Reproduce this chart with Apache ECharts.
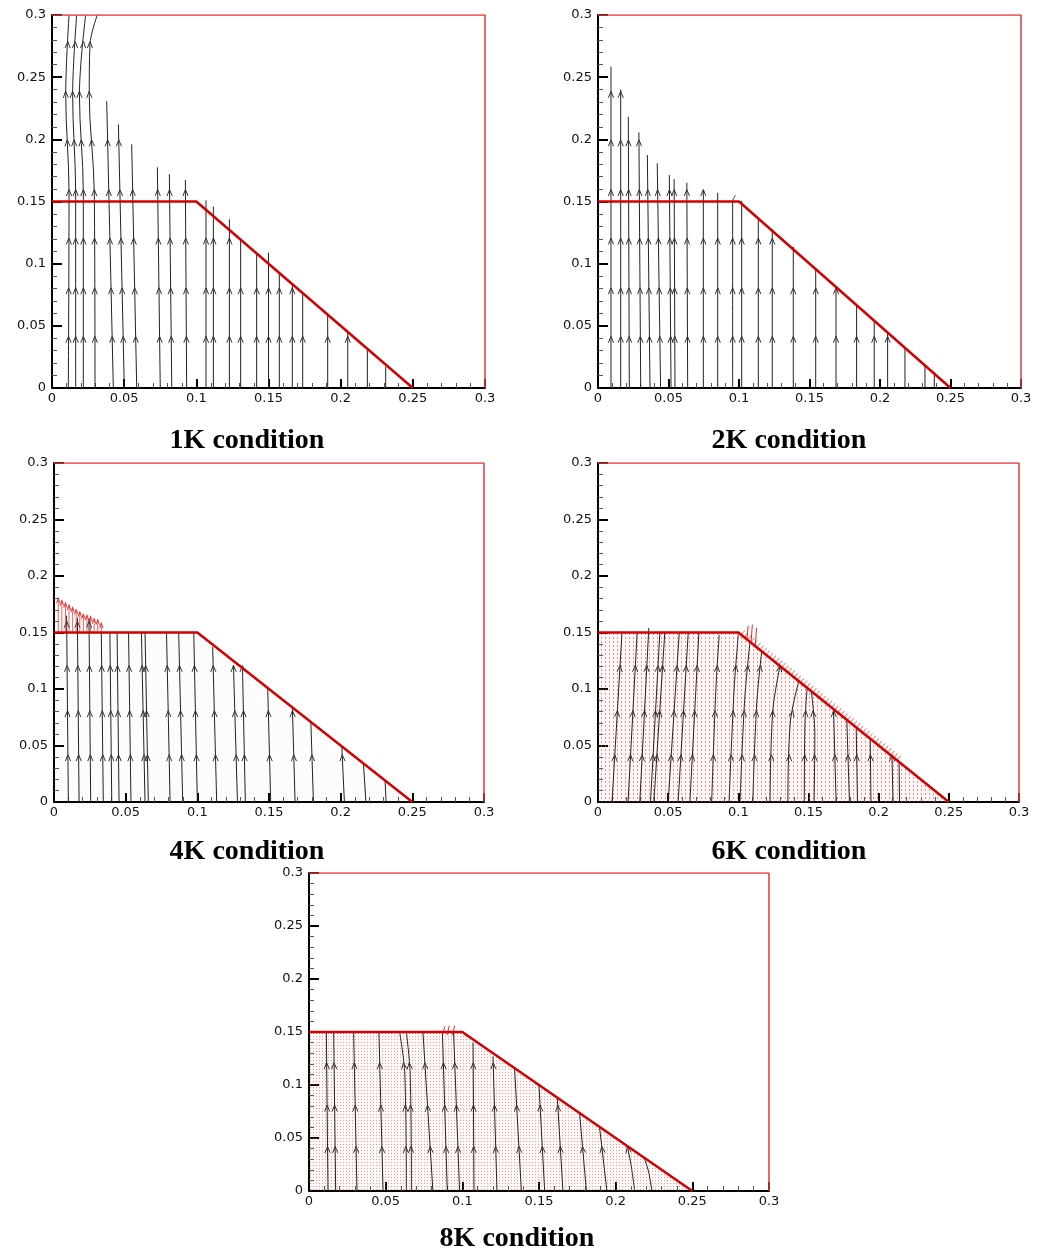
<!DOCTYPE html>
<html><head><meta charset="utf-8">
<script src="https://cdn.jsdelivr.net/npm/echarts@6/dist/echarts.min.js"></script>
<style>html,body{margin:0;padding:0;background:#fff}#c{width:1038px;height:1250px}</style>
</head><body><div id="c"></div>
<script>
// ---------- data ----------
const panelTitles = ['1K condition', '2K condition', '4K condition', '6K condition', '8K condition'];
const axisTickValues = [0, 0.05, 0.1, 0.15, 0.2, 0.25, 0.3];
const boundary = [[0, 0.15], [0.1, 0.15], [0.25, 0]];
const domainFrame = [[0, 0.3], [0.3, 0.3], [0.3, 0]];
const arrowLevels = [0.039, 0.078, 0.118, 0.157, 0.197, 0.236, 0.276];

// streamlines: each is a list of [x, y] points from bottom to top
const lines1K = [
  [[0.0113, 0], [0.0118, 0.157], [0.0095, 0.236], [0.0118, 0.3]],
  [[0.0164, 0], [0.0164, 0.157], [0.0143, 0.236], [0.0171, 0.3]],
  [[0.0217, 0], [0.0217, 0.157], [0.0190, 0.236], [0.0233, 0.3]],
  [[0.0298, 0], [0.0293, 0.157], [0.0258, 0.236], [0.0263, 0.276], [0.0314, 0.3]],
  [[0.0425, 0], [0.0379, 0.2308]],
  [[0.0501, 0], [0.0460, 0.212]],
  [[0.0587, 0], [0.0552, 0.196]],
  [[0.0750, 0], [0.0730, 0.1775]],
  [[0.0830, 0], [0.0813, 0.172]],
  [[0.0933, 0], [0.0924, 0.1673]],
  [[0.1067, 0], [0.1067, 0.151]],
  [[0.1118, 0], [0.1118, 0.146]],
  [[0.1229, 0], [0.1229, 0.1357]],
  [[0.1307, 0], [0.1307, 0.119]],
  [[0.1418, 0], [0.1418, 0.1083]],
  [[0.1500, 0], [0.1500, 0.1088]],
  [[0.1575, 0], [0.1575, 0.0922]],
  [[0.1665, 0], [0.1665, 0.0828]],
  [[0.1737, 0], [0.1737, 0.0761]],
  [[0.1910, 0], [0.1910, 0.0587]],
  [[0.2049, 0], [0.2049, 0.0453]],
  [[0.2185, 0], [0.2185, 0.0306]],
  [[0.2312, 0], [0.2312, 0.0171]]
];
const lines2K = [
  [[0.0092, 0], [0.0092, 0.2584]],
  [[0.0161, 0], [0.0161, 0.2402]],
  [[0.0222, 0], [0.0215, 0.2182]],
  [[0.0303, 0], [0.0290, 0.2056]],
  [[0.0369, 0], [0.0350, 0.1874]],
  [[0.0444, 0], [0.0420, 0.1807]],
  [[0.0518, 0], [0.0506, 0.1713]],
  [[0.0546, 0], [0.0540, 0.168]],
  [[0.0636, 0], [0.0630, 0.1651]],
  [[0.0747, 0], [0.0747, 0.1592]],
  [[0.0849, 0], [0.0849, 0.157]],
  [[0.0955, 0], [0.0955, 0.150], [0.0975, 0.155]],
  [[0.1019, 0], [0.1019, 0.1504]],
  [[0.1137, 0], [0.1137, 0.1365]],
  [[0.1236, 0], [0.1236, 0.1276]],
  [[0.1385, 0], [0.1385, 0.1137]],
  [[0.1544, 0], [0.1544, 0.0949]],
  [[0.1688, 0], [0.1688, 0.0815]],
  [[0.1834, 0], [0.1834, 0.0668]],
  [[0.1959, 0], [0.1959, 0.0547]],
  [[0.2054, 0], [0.2054, 0.0453]],
  [[0.2177, 0], [0.2177, 0.0319]],
  [[0.2319, 0], [0.2319, 0.0185]],
  [[0.2385, 0], [0.2385, 0.0123]]
];
const lines4K = [
  [[0.0100, 0], [0.0088, 0.165]],
  [[0.0175, 0], [0.0163, 0.163]],
  [[0.0256, 0], [0.0244, 0.162]],
  [[0.0344, 0], [0.0330, 0.150]],
  [[0.0403, 0], [0.0390, 0.150]],
  [[0.0454, 0], [0.0440, 0.150]],
  [[0.0537, 0], [0.0520, 0.150]],
  [[0.0635, 0], [0.0610, 0.150]],
  [[0.0658, 0], [0.0635, 0.150]],
  [[0.0810, 0], [0.0785, 0.150]],
  [[0.0898, 0], [0.0870, 0.150]],
  [[0.1000, 0], [0.0975, 0.150]],
  [[0.1135, 0], [0.1107, 0.1374]],
  [[0.1280, 0], [0.1252, 0.1212]],
  [[0.1335, 0], [0.1315, 0.1195]],
  [[0.1512, 0], [0.1491, 0.1006]],
  [[0.1682, 0], [0.1663, 0.0838]],
  [[0.1810, 0], [0.1792, 0.0711]],
  [[0.2026, 0], [0.2008, 0.0489]],
  [[0.2176, 0], [0.2159, 0.0336]],
  [[0.2317, 0], [0.2310, 0.0180]]
];
const lines6K = [
  [[0.0100, 0], [0.0171, 0.150]],
  [[0.0214, 0], [0.0279, 0.150]],
  [[0.0298, 0], [0.0362, 0.154]],
  [[0.0374, 0], [0.0441, 0.150]],
  [[0.0398, 0], [0.0476, 0.150]],
  [[0.0500, 0], [0.0579, 0.150]],
  [[0.0571, 0], [0.0643, 0.150]],
  [[0.0655, 0], [0.0719, 0.150]],
  [[0.0810, 0], [0.0840, 0.100], [0.0864, 0.148]],
  [[0.0934, 0], [0.0970, 0.100], [0.1000, 0.148]],
  [[0.1012, 0], [0.1045, 0.090], [0.1083, 0.1417]],
  [[0.1103, 0], [0.1130, 0.085], [0.1167, 0.134]],
  [[0.1226, 0], [0.1245, 0.080], [0.1298, 0.121]],
  [[0.1353, 0], [0.1370, 0.070], [0.1429, 0.106]],
  [[0.1470, 0], [0.1475, 0.070], [0.1490, 0.100]],
  [[0.1540, 0], [0.1545, 0.060], [0.1520, 0.098]],
  [[0.1697, 0], [0.1678, 0.083]],
  [[0.1792, 0], [0.1773, 0.072]],
  [[0.1849, 0], [0.1840, 0.065]],
  [[0.1945, 0], [0.1940, 0.0555]],
  [[0.2102, 0], [0.2095, 0.041]],
  [[0.2149, 0], [0.2145, 0.036]]
];
const lines8K = [
  [[0.0124, 0], [0.0113, 0.150]],
  [[0.0174, 0], [0.0161, 0.150]],
  [[0.0313, 0], [0.0291, 0.150]],
  [[0.0483, 0], [0.0456, 0.150]],
  [[0.0635, 0], [0.0625, 0.110], [0.0591, 0.150]],
  [[0.0668, 0], [0.0660, 0.110], [0.0635, 0.150]],
  [[0.0808, 0], [0.0743, 0.150]],
  [[0.0902, 0], [0.0870, 0.150]],
  [[0.0982, 0], [0.0943, 0.150]],
  [[0.1076, 0], [0.1070, 0.140]],
  [[0.1226, 0], [0.1200, 0.127]],
  [[0.1385, 0], [0.1341, 0.115]],
  [[0.1537, 0], [0.1500, 0.099]],
  [[0.1656, 0], [0.1620, 0.087]],
  [[0.1809, 0], [0.1765, 0.073]],
  [[0.1943, 0], [0.1895, 0.060]],
  [[0.2124, 0], [0.2100, 0.025], [0.2076, 0.042]],
  [[0.2236, 0], [0.2215, 0.018], [0.2189, 0.030]]
];
// red velocity vectors
const redVec4K = [[0.003, 0.181], [0.0055, 0.179], [0.008, 0.177], [0.0105, 0.175], [0.013, 0.173],
  [0.0155, 0.171], [0.018, 0.169], [0.0205, 0.167], [0.023, 0.166], [0.0255, 0.165],
  [0.028, 0.163], [0.0305, 0.162], [0.033, 0.159]];
const redTicks6K = [
  [[0.106, 0.143], [0.107, 0.156]], [[0.109, 0.140], [0.110, 0.157]], [[0.112, 0.137], [0.113, 0.154]]
];
const redFringe6K = [[0.103, 0.150], [0.215, 0.038]];
const redTicks8K = [
  [[0.0870, 0.147], [0.0885, 0.155]], [[0.0900, 0.147], [0.0915, 0.156]], [[0.0935, 0.147], [0.0950, 0.156]]
];

// ---------- layout ----------
const gridBoxes = [
  {left: 52, top: 15, width: 433, height: 373},
  {left: 598, top: 15, width: 423, height: 373},
  {left: 54, top: 463, width: 430, height: 339},
  {left: 598, top: 463, width: 421, height: 339},
  {left: 309, top: 873, width: 460, height: 318}
];
const titlePos = [[247, 441], [789, 441], [247, 852], [789, 852], [517, 1239]];

function dotPattern(w, h, dw, dh, r, g, b, a) {
  const c = document.createElement('canvas');
  c.width = w; c.height = h;
  const ctx = c.getContext('2d');
  const img = ctx.createImageData(w, h);
  for (let yy = 1; yy < 1 + dh; yy++) {
    for (let xx = 1; xx < 1 + dw; xx++) {
      const k = (yy * w + xx) * 4;
      img.data[k] = r; img.data[k + 1] = g; img.data[k + 2] = b; img.data[k + 3] = a;
    }
  }
  ctx.putImageData(img, 0, 0);
  return {image: c.toDataURL('image/png'), repeat: 'repeat'};
}
const panelFill = [
  null,
  null,
  dotPattern(4, 4, 1, 1, 120, 120, 120, 40),
  dotPattern(4, 4, 1, 2, 236, 70, 70, 150),
  dotPattern(3, 3, 1, 1, 236, 70, 70, 140)
];
const panelTint = [null, null, null, 'rgba(240,90,90,0.05)', 'rgba(240,90,90,0.04)'];
const panelLines = [lines1K, lines2K, lines4K, lines6K, lines8K];

function fmt(v) { return String(+v.toFixed(2)); }

function arrowsFor(lines) {
  const out = [];
  lines.forEach(pts => {
    const top = pts[pts.length - 1][1];
    arrowLevels.forEach(L => {
      if (L >= top - 0.001) return;
      for (let k = 0; k < pts.length - 1; k++) {
        const a = pts[k], b = pts[k + 1];
        if ((L - a[1]) * (L - b[1]) <= 0 && a[1] !== b[1]) {
          const t = (L - a[1]) / (b[1] - a[1]);
          out.push([a[0] + t * (b[0] - a[0]), L, b[0] - a[0], b[1] - a[1]]);
          break;
        }
      }
    });
  });
  return out;
}

function arrowRenderer(color, h, w) {
  return function (params, api) {
    const x = api.value(0), y = api.value(1);
    const p = api.coord([x, y]);
    const q = api.coord([x + api.value(2) * 0.1, y + api.value(3) * 0.1]);
    let dx = q[0] - p[0], dy = q[1] - p[1];
    const len = Math.hypot(dx, dy) || 1;
    dx /= len; dy /= len;
    const nx = -dy, ny = dx;
    return {
      type: 'polyline',
      shape: {points: [
        [p[0] - dx * h + nx * w, p[1] - dy * h + ny * w],
        [p[0] + dx * h, p[1] + dy * h],
        [p[0] - dx * h - nx * w, p[1] - dy * h - ny * w]
      ]},
      style: {stroke: color, lineWidth: 1, fill: null}
    };
  };
}

const grids = [], xAxes = [], yAxes = [], series = [], graphics = [];
gridBoxes.forEach((b, i) => {
  grids.push(Object.assign({containLabel: false, outerBoundsMode: 'none'}, b));
  const common = {
    gridIndex: i, type: 'value', min: axisTickValues[0], max: axisTickValues[axisTickValues.length - 1],
    interval: axisTickValues[1] - axisTickValues[0],
    axisLine: {show: true, onZero: false, lineStyle: {color: '#000', width: 2}},
    axisTick: {show: true, inside: true, lineStyle: {color: '#000', width: 2}},
    minorTick: {show: true, splitNumber: 5, length: 5, lineStyle: {color: '#555', width: 1}},
    splitLine: {show: false}, minorSplitLine: {show: false}
  };
  xAxes.push(Object.assign({}, common, {
    axisTick: Object.assign({}, common.axisTick, {length: 9}),
    axisLabel: {margin: 4, fontSize: 13, fontFamily: 'DejaVu Sans', color: '#111', formatter: fmt}
  }));
  yAxes.push(Object.assign({}, common, {
    axisTick: Object.assign({}, common.axisTick, {length: 10}),
    axisLabel: {margin: 6, fontSize: 13, fontFamily: 'DejaVu Sans', color: '#111', formatter: fmt}
  }));
  const base = {xAxisIndex: i, yAxisIndex: i, silent: true, animation: false};
  if (panelTint[i]) {
    series.push(Object.assign({}, base, {
      type: 'line', data: boundary, symbol: 'none', lineStyle: {width: 0},
      areaStyle: {color: panelTint[i], opacity: 1}, z: 1
    }));
  }
  if (panelFill[i]) {
    series.push(Object.assign({}, base, {
      type: 'line', data: boundary, symbol: 'none', lineStyle: {width: 0},
      areaStyle: {color: panelFill[i], opacity: 1}, z: 1
    }));
  }
  panelLines[i].forEach(pts => {
    series.push(Object.assign({}, base, {
      type: 'line', data: pts, symbol: 'none', smooth: pts.length > 2 ? 0.35 : false,
      lineStyle: {color: '#222', width: 1}, z: 3
    }));
  });
  series.push(Object.assign({}, base, {
    type: 'custom', coordinateSystem: 'cartesian2d', data: arrowsFor(panelLines[i]),
    encode: {x: 0, y: 1}, renderItem: arrowRenderer('#333', 3.2, 2.6), z: 4, clip: false
  }));
  series.push(Object.assign({}, base, {
    type: 'line', data: domainFrame, symbol: 'none', lineStyle: {color: '#e23a3a', width: 1.5}, z: 5
  }));
  series.push(Object.assign({}, base, {
    type: 'line', data: boundary, symbol: 'none', lineStyle: {color: '#d40000', width: 2.5}, z: 6
  }));
  graphics.push({
    type: 'text', x: titlePos[i][0], y: titlePos[i][1], silent: true,
    style: {text: panelTitles[i], font: 'bold 28px "Liberation Serif"', fill: '#000',
      align: 'center', verticalAlign: 'middle'}
  });
});

// 4K red vectors above the horizontal wall
redVec4K.forEach(v => {
  series.push({type: 'line', xAxisIndex: 2, yAxisIndex: 2, silent: true, animation: false,
    data: [[v[0], 0.151], [v[0], v[1]]], symbol: 'none', lineStyle: {color: 'rgba(225,25,25,0.85)', width: 0.8}, z: 7});
});
series.push({type: 'custom', xAxisIndex: 2, yAxisIndex: 2, coordinateSystem: 'cartesian2d', silent: true, animation: false,
  data: redVec4K.map(v => [v[0], v[1] - 0.003, 0, 1]),
  encode: {x: 0, y: 1}, renderItem: arrowRenderer('rgba(225,25,25,0.85)', 2.4, 1.8), z: 7, clip: false});
// 6K fringe of red vectors along the slanted wall
series.push({type: 'line', xAxisIndex: 3, yAxisIndex: 3, silent: true, animation: false,
  data: redFringe6K, symbol: 'none', lineStyle: {color: 'rgba(225,30,30,0.55)', width: 6, type: [1, 3]}, z: 5});
redTicks6K.forEach(seg => {
  series.push({type: 'line', xAxisIndex: 3, yAxisIndex: 3, silent: true, animation: false,
    data: seg, symbol: 'none', lineStyle: {color: 'rgba(220,20,20,0.9)', width: 1}, z: 7});
});
redTicks8K.forEach(seg => {
  series.push({type: 'line', xAxisIndex: 4, yAxisIndex: 4, silent: true, animation: false,
    data: seg, symbol: 'none', lineStyle: {color: 'rgba(220,20,20,0.9)', width: 1}, z: 7});
});

const chart = echarts.init(document.getElementById('c'), null, {renderer: 'canvas'});
chart.setOption({
  animation: false,
  backgroundColor: '#fff',
  grid: grids, xAxis: xAxes, yAxis: yAxes, series: series, graphic: graphics
});
</script></body></html>
